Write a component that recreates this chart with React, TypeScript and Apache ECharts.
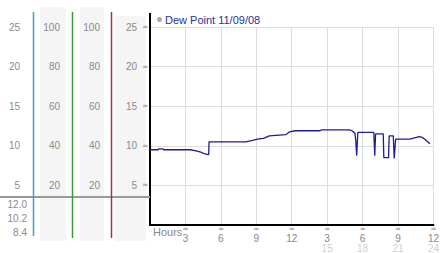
import React, { useEffect, useRef } from "react";
import * as echarts from "echarts";

const seriesName = "Dew Point 11/09/08";
const hours = [
  0, 0.7, 0.75, 1.1, 1.15, 3.4, 3.9, 4.3, 4.6, 4.9, 4.97, 5.0, 8.1, 8.6, 9.1, 9.6, 10.1, 11.5, 11.8,
  12.3, 14.4, 14.5, 16.9, 17.1, 17.35, 17.42, 17.5, 17.6, 18.95, 19.03, 19.1, 19.75, 19.8, 20.2,
  20.25, 20.6, 20.68, 20.8, 22.0, 22.4, 22.8, 23.0, 23.3, 23.7,
];
const dewPoint = [
  9.5, 9.5, 9.6, 9.6, 9.5, 9.5, 9.35, 9.2, 9.0, 8.9, 8.9, 10.5, 10.5, 10.65, 10.85, 10.95, 11.25,
  11.4, 11.75, 11.9, 11.9, 12.0, 12.0, 11.9, 11.6, 10.75, 8.75, 11.7, 11.7, 8.75, 11.5, 11.5, 8.5,
  8.5, 11.25, 11.25, 8.4, 10.85, 10.85, 11.0, 11.15, 11.1, 10.8, 10.25,
];
const lowerLabels = ["12.0", "10.2", "8.4"];
const xTitle = "Hours";

export default function App() {
  const ref = useRef<HTMLDivElement>(null);
  useEffect(() => {
    const chart = echarts.init(ref.current!, null, { renderer: "svg" });
    const font = "Liberation Sans, Arial, sans-serif";
    const glyphFont = "DejaVu Sans, sans-serif";
    const lbl = { fontFamily: font, fontSize: 10, color: "#8a8a8a" };
    const sideAxis = (min: number, max: number, interval: number, offset: number, margin: number) => ({
      type: "value",
      position: "left",
      min,
      max,
      interval,
      offset,
      axisLine: { show: false },
      axisTick: { show: false },
      splitLine: { show: false },
      axisLabel: { ...lbl, margin, showMinLabel: false },
    });
    const data = hours.map((h, i) => [h, dewPoint[i]]);
    chart.setOption({
      animation: false,
      textStyle: { fontFamily: font },
      grid: { left: 150, right: 3, top: 27, bottom: 27, containLabel: false },
      legend: {
        left: 157,
        top: 14,
        padding: 0,
        itemWidth: 5,
        itemHeight: 5,
        data: [{ name: seriesName, icon: "circle", itemStyle: { color: "#aaaaaa" } }],
        textStyle: { fontFamily: font, fontSize: 11, color: "#2233a0", padding: [0, 0, 0, -2] },
      },
      xAxis: {
        type: "value",
        min: 0,
        max: 24,
        interval: 3,
        axisLine: { show: true, lineStyle: { color: "#000", width: 2 } },
        axisTick: { show: false },
        splitLine: { show: true, lineStyle: { color: "#dddddd", width: 1 } },
        axisLabel: {
          margin: 0,
          showMinLabel: false,
          formatter: (v: number) =>
            v <= 12 ? `{t|≈}\n{a|${v}}` : `{t|≈}\n{a|${v - 12}}\n{b|${v}}`,
          rich: {
            t: { fontFamily: glyphFont, fontSize: 7, color: "#888", lineHeight: 8, align: "center" },
            a: { fontFamily: font, fontSize: 10, color: "#888", lineHeight: 10, align: "center" },
            b: { fontFamily: font, fontSize: 10, color: "#d0d0d0", lineHeight: 10, align: "center" },
          },
        },
      },
      yAxis: [
        {
          type: "value",
          position: "left",
          min: 0,
          max: 25,
          interval: 5,
          axisLine: { show: true, lineStyle: { color: "#000", width: 2 } },
          axisTick: { show: false },
          splitLine: { show: true, lineStyle: { color: "#dddddd", width: 1 } },
          axisLabel: {
            margin: 2,
            showMinLabel: false,
            formatter: (v: number) => `{v|${v}}{t|≈}`,
            rich: {
              v: { ...lbl },
              t: { fontFamily: glyphFont, fontSize: 7, color: "#888", padding: [0, 0, 0, 5] },
            },
          },
        },
        sideAxis(0, 25, 5, 117, 13),
        sideAxis(0, 100, 20, 78, 12),
        sideAxis(0, 100, 20, 39, 11),
      ],
      series: [
        {
          name: seriesName,
          type: "line",
          data,
          showSymbol: false,
          lineStyle: { color: "#1c1c94", width: 1.3 },
          itemStyle: { color: "#aaaaaa" },
        },
      ],
      graphic: [
        { type: "rect", z: -10, shape: { x: 40, y: 7, width: 26, height: 234 }, style: { fill: "#f5f5f5" } },
        { type: "rect", z: -10, shape: { x: 80, y: 7, width: 24, height: 234 }, style: { fill: "#f5f5f5" } },
        { type: "rect", z: -10, shape: { x: 115, y: 16, width: 31, height: 225 }, style: { fill: "#f5f5f5" } },
        { type: "line", z: 5, shape: { x1: 0, y1: 197, x2: 150, y2: 197 }, style: { stroke: "#9a9a9a", lineWidth: 2 } },
        { type: "line", z: 6, shape: { x1: 33.5, y1: 12, x2: 33.5, y2: 236 }, style: { stroke: "#3a9fcf", lineWidth: 1.5 } },
        { type: "line", z: 6, shape: { x1: 72.5, y1: 12, x2: 72.5, y2: 238 }, style: { stroke: "#3a9a3a", lineWidth: 1.5 } },
        { type: "line", z: 6, shape: { x1: 111.5, y1: 12, x2: 111.5, y2: 238 }, style: { stroke: "#b03030", lineWidth: 1.5 } },
        { type: "line", z: 6, shape: { x1: 150, y1: 13, x2: 150, y2: 28 }, style: { stroke: "#000", lineWidth: 2 } },
        ...lowerLabels.map((t, i) => ({
          type: "text",
          x: 27,
          y: 204 + i * 14,
          style: { text: t, fill: "#8a8a8a", font: `10px ${font}`, align: "right", verticalAlign: "middle" },
        })),
        {
          type: "text",
          x: 153,
          y: 232,
          style: { text: xTitle, fill: "#888", font: `11px ${font}`, align: "left", verticalAlign: "middle" },
        },
      ],
    });
    return () => chart.dispose();
  }, []);
  return <div ref={ref} style={{ width: 442, height: 253, position: "absolute", left: 0, top: 0 }} />;
}
